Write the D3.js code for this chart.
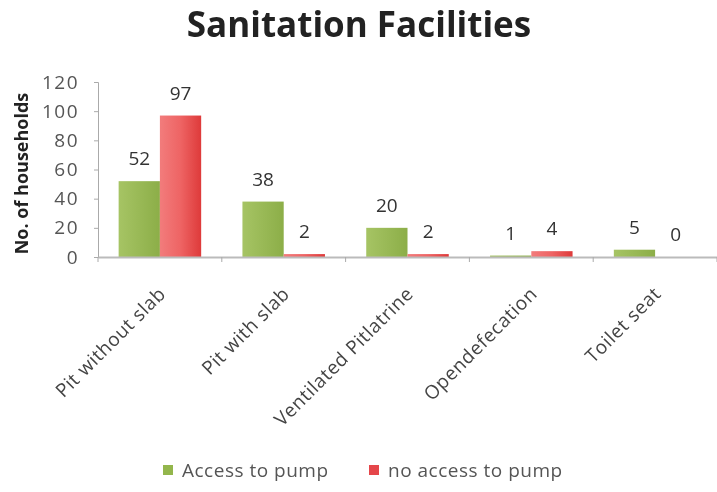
<!DOCTYPE html>
<html><head><meta charset="utf-8">
<script src="https://cdn.jsdelivr.net/npm/d3@7/dist/d3.min.js"></script>
<style>body{margin:0;background:#fff}svg{display:block;filter:blur(0.6px)}</style>
</head><body>
<svg id="chart" width="717" height="492"></svg>
<script>
const categories = ["Pit without slab", "Pit with slab", "Ventilated Pitlatrine", "Opendefecation", "Toilet seat"];
const seriesNames = ["Access to pump", "no access to pump"];
const accessToPump = [52, 38, 20, 1, 5];
const noAccessToPump = [97, 2, 2, 4, 0];
const yTicks = [0, 20, 40, 60, 80, 100, 120];
const colors = ["#93b64c", "#e5464a"];

const svg = d3.select("#chart");
const W = 717, H = 492;
const FONT = "Open Sans, sans-serif";
const m = {left: 98, right: 0, top: 82, bottom: 235};
const x0 = d3.scaleBand().domain(categories).range([m.left, W - m.right]);
const x1 = d3.scaleBand().domain(seriesNames).range([0, x0.bandwidth()]).paddingInner(0).paddingOuter(0.5);
const y = d3.scaleLinear().domain([0, 120]).range([H - m.bottom, m.top]);

const defs = svg.append("defs");
const gR = defs.append("linearGradient").attr("id","gr").attr("x1",0).attr("x2",1).attr("y1",0).attr("y2",0);
gR.append("stop").attr("offset","0%").attr("stop-color","#f27c7c");
gR.append("stop").attr("offset","50%").attr("stop-color","#ee6464");
gR.append("stop").attr("offset","100%").attr("stop-color","#de3a3a");
const gG = defs.append("linearGradient").attr("id","gg").attr("x1",0).attr("x2",1).attr("y1",0).attr("y2",0);
gG.append("stop").attr("offset","0%").attr("stop-color","#a6c464");
gG.append("stop").attr("offset","100%").attr("stop-color","#8cae48");
const fills = ["url(#gg)", "url(#gr)"];

// title
svg.append("text").attr("x", 359).attr("y", 37).attr("text-anchor","middle")
  .attr("font-family",FONT).attr("font-weight","bold").attr("font-size",35)
  .attr("fill","#222").text("Sanitation Facilities");

// y axis
const yAxis = svg.append("g").attr("transform",`translate(${m.left},0)`)
  .call(d3.axisLeft(y).tickValues(yTicks).tickSize(4).tickPadding(15));
yAxis.select(".domain").attr("stroke","#aaa");
yAxis.selectAll(".tick line").attr("stroke","#aaa");
yAxis.selectAll("text").attr("font-family",FONT).attr("font-size",19)
  .attr("letter-spacing",1.5).attr("fill","#555");

svg.append("text").attr("transform",`translate(28,${(y(0)+y(120))/2 + 4}) rotate(-90)`)
  .attr("text-anchor","middle").attr("font-family",FONT).attr("font-weight","bold")
  .attr("font-size",18).attr("fill","#222").text("No. of households");

// bars
const data = categories.map((c,i)=>({c, vals:[accessToPump[i], noAccessToPump[i]]}));
const grp = svg.selectAll(".grp").data(data).join("g").attr("transform",d=>`translate(${x0(d.c)},0)`);
grp.selectAll("rect").data(d=>d.vals.map((v,j)=>({s:seriesNames[j], v, j})))
  .join("rect").attr("x",d=>x1(d.s)).attr("width",x1.bandwidth())
  .attr("y",d=>y(d.v)).attr("height",d=>y(0)-y(d.v)).attr("fill",d=>fills[d.j]);
grp.selectAll(".lbl").data(d=>d.vals.map((v,j)=>({s:seriesNames[j], v, j})))
  .join("text").attr("class","lbl").attr("x",d=>x1(d.s)+x1.bandwidth()/2).attr("y",d=>y(d.v)-16)
  .attr("text-anchor","middle").attr("font-family",FONT).attr("font-size",19)
  .attr("fill","#333").text(d=>d.v);

// x axis
const xAxis = svg.append("g").attr("transform",`translate(0,${y(0)})`)
  .call(d3.axisBottom(x0).tickSize(0).tickFormat(""));
xAxis.select(".domain").attr("stroke","#bbb").attr("stroke-width",2);
svg.append("g").selectAll("line").data(d3.range(categories.length + 1)).join("line")
  .attr("x1",i=>m.left + i*x0.step()).attr("x2",i=>m.left + i*x0.step())
  .attr("y1",y(0)).attr("y2",y(0)+5).attr("stroke","#aaa");
svg.append("g").selectAll("text").data(categories).join("text")
  .attr("transform",d=>`translate(${x0(d)+x0.bandwidth()/2+7},${y(0)+38}) rotate(-45)`)
  .attr("text-anchor","end").attr("font-family",FONT).attr("font-size",19).attr("letter-spacing",0.6)
  .attr("fill","#444").text(d=>d);

// legend
const leg = svg.append("g").attr("transform","translate(163,471)");
const legX = [0, 206];
seriesNames.forEach((s,i)=>{
  const g = leg.append("g").attr("transform",`translate(${legX[i]},0)`);
  g.append("rect").attr("x",0).attr("y",-6).attr("width",10).attr("height",10).attr("fill",colors[i]);
  g.append("text").attr("x",19).attr("y",6).attr("font-family",FONT)
    .attr("font-size",19).attr("letter-spacing",0.5).attr("fill","#555").text(s);
});
</script>
</body></html>
